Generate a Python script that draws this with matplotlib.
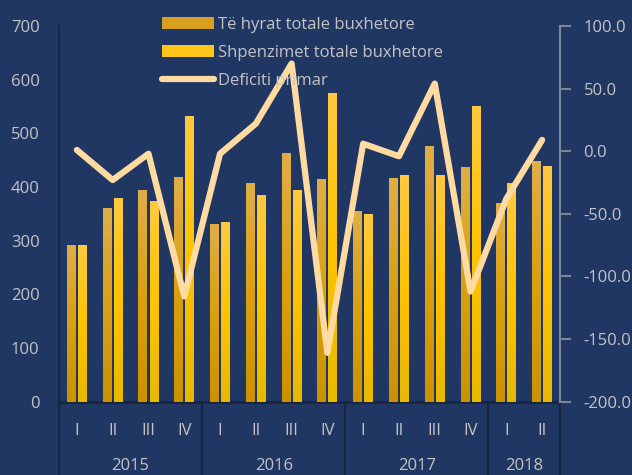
import numpy as np
import matplotlib
matplotlib.use("Agg")
from matplotlib import pyplot as plt
from matplotlib.colors import LinearSegmentedColormap
from matplotlib import transforms

quarters = ["I", "II", "III", "IV", "I", "II", "III", "IV", "I", "II", "III", "IV", "I", "II"]
years = ["2015", "2016", "2017", "2018"]
year_centers = [1.5, 5.5, 9.5, 12.5]
year_bounds = [-0.5, 3.5, 7.5, 11.5, 13.5]

te_hyrat = [292, 361, 394, 419, 331, 407, 463, 415, 355, 417, 476, 437, 370, 448]
shpenzimet = [292, 380, 374, 532, 335, 385, 394, 575, 350, 422, 422, 551, 407, 439]
deficiti = [1, -23, -2, -116, -2, 22, 70, -161, 6, -4, 54, -112, -38, 9]

bg = "#203663"
txt = "#c4c4c4"

plt.rcParams['font.family'] = ['Open Sans', 'DejaVu Sans']

fig = plt.figure(figsize=(6.32, 4.75), dpi=100)
fig.patch.set_facecolor(bg)
ax = fig.add_axes([59/632, 1 - 401.7/475, (560-59)/632, (401.7-26)/475])
ax.set_facecolor(bg)

x = np.arange(len(quarters))
w = 0.25
off = 0.155
b1 = ax.bar(x - off, te_hyrat, w, color="#D9A020", label="Të hyrat totale buxhetore", zorder=2)
b2 = ax.bar(x + off, shpenzimet, w, color="#FFC61A", label="Shpenzimet totale buxhetore", zorder=2)

# gradient fill for bars
cm1 = LinearSegmentedColormap.from_list("g1", ["#CC9200", "#D9A010", "#E0AE48"])
cm2 = LinearSegmentedColormap.from_list("g2", ["#E8B800", "#FFC300", "#FFC93F"])
grad = np.linspace(0, 1, 256).reshape(-1, 1)
for bars, cm in [(b1, cm1), (b2, cm2)]:
    for r in bars:
        x0, y0 = r.get_x(), r.get_y()
        im = ax.imshow(grad, cmap=cm, origin="lower", aspect="auto",
                       extent=[x0, x0 + r.get_width(), y0, y0 + r.get_height()], zorder=3)
        im.set_clip_path(r)

ax.set_xlim(-0.5, 13.5)
ax.set_ylim(0, 700)
ax.set_yticks(range(0, 701, 100))
ax.tick_params(axis="y", length=0, pad=14, labelsize=12, labelcolor=txt)
ax.set_xticks(x)
ax.set_xticklabels(quarters)
ax.tick_params(axis="x", length=0, pad=15, labelsize=12, labelcolor=txt)
for s in ["top", "right"]:
    ax.spines[s].set_visible(False)
ax.spines["left"].set_color("#18263f")
ax.spines["left"].set_linewidth(1.5)
ax.spines["bottom"].set_color("#18263f")
ax.spines["bottom"].set_linewidth(2)

trans = transforms.blended_transform_factory(ax.transData, ax.transAxes)
for yb in year_bounds:
    ax.plot([yb, yb], [0, -0.22], transform=trans, color="#18263f", lw=1.5, clip_on=False)
for xc, yr in zip(year_centers, years):
    ax.text(xc, -0.172, yr, transform=trans, ha="center", va="center", fontsize=12, color=txt)

ax2 = ax.twinx()
ax2.plot(x, deficiti, color="#FFDBA1", lw=4.5, solid_capstyle="round",
         solid_joinstyle="round", label="Deficiti primar", zorder=4)
ax2.set_ylim(-200, 100)
ax2.set_yticks(range(-200, 101, 50))
ax2.set_yticklabels([f"{v:.1f}" for v in range(-200, 101, 50)])
ax2.tick_params(axis="y", length=8, width=1.5, color="#7d8696", pad=9, labelsize=12, labelcolor=txt)
for s in ["top", "left", "bottom"]:
    ax2.spines[s].set_visible(False)
ax2.spines["right"].set_color("#7d8696")
ax2.spines["right"].set_linewidth(1.5)

h1, l1 = ax.get_legend_handles_labels()
h2, l2 = ax2.get_legend_handles_labels()
leg = ax2.legend(h1 + h2, l1 + l2, loc="upper left", bbox_to_anchor=(162/632, 1 - 17/475),
                 bbox_transform=fig.transFigure, frameon=False, fontsize=12,
                 handlelength=3.1, handleheight=0.75, handletextpad=0.25,
                 labelspacing=0.72, borderpad=0, borderaxespad=0)
for t in leg.get_texts():
    t.set_color(txt)

fig.savefig("out.png", dpi=100, facecolor=bg)
